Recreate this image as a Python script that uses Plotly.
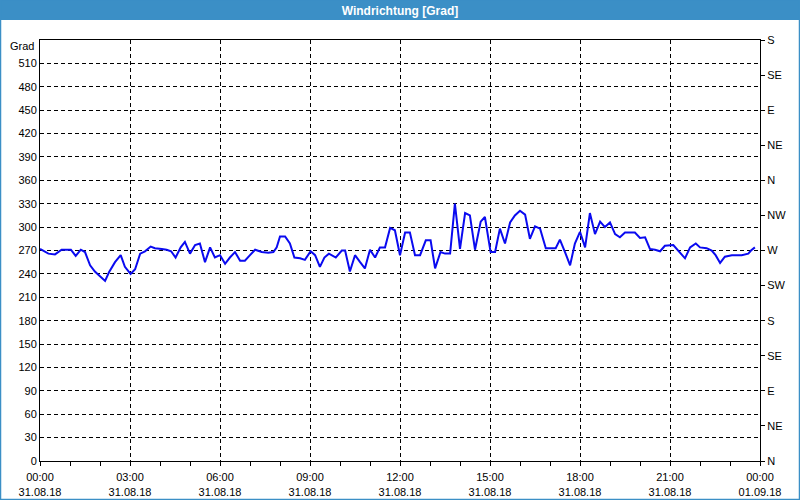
import plotly.graph_objects as go
import pandas as pd

# ---- data ----
hours = [0.0, 0.28, 0.5, 0.72, 1.03, 1.19, 1.36, 1.5, 1.67, 1.83, 2.0, 2.17, 2.3, 2.5, 2.69, 2.83,
         3.02, 3.17, 3.34, 3.5, 3.69, 3.83, 4.06, 4.22, 4.37, 4.52, 4.69, 4.83, 5.0, 5.17, 5.33, 5.5,
         5.67, 5.83, 6.0, 6.17, 6.33, 6.5, 6.67, 6.83, 7.0, 7.17, 7.39, 7.61, 7.78, 7.89, 8.0, 8.17,
         8.33, 8.48, 8.67, 8.83, 9.02, 9.17, 9.33, 9.48, 9.63, 9.86, 10.06, 10.17, 10.33, 10.5, 10.67,
         10.83, 11.0, 11.17, 11.33, 11.5, 11.67, 11.83, 12.0, 12.17, 12.33, 12.5, 12.67, 12.86, 13.02,
         13.17, 13.35, 13.5, 13.67, 13.83, 14.0, 14.17, 14.33, 14.5, 14.69, 14.83, 15.02, 15.17, 15.33,
         15.5, 15.67, 15.83, 16.0, 16.17, 16.33, 16.5, 16.67, 16.86, 17.19, 17.33, 17.5, 17.67, 17.83,
         18.0, 18.17, 18.33, 18.5, 18.67, 18.83, 19.0, 19.17, 19.33, 19.5, 19.83, 20.0, 20.17, 20.33,
         20.5, 20.67, 20.83, 21.11, 21.28, 21.5, 21.67, 21.86, 22.0, 22.22, 22.39, 22.52, 22.67, 22.83,
         23.06, 23.39, 23.61, 23.7, 23.83]
grad = [272, 266, 265, 271, 271, 263, 271, 268, 251, 243, 237, 231, 242, 255, 264, 249,
        240, 246, 266, 269, 275, 273, 272, 271, 269, 261, 274, 281, 266, 277, 279, 255,
        274, 261, 264, 253, 261, 268, 257, 257, 264, 271, 268, 267, 268, 274, 288, 288,
        279, 261, 260, 258, 269, 264, 249, 261, 266, 261, 270, 270, 243, 264, 255,
        247, 271, 261, 274, 274, 299, 296, 264, 293, 293, 264, 264, 283, 283,
        247, 268, 266, 266, 330, 272, 318, 315, 271, 307, 313, 268, 268, 298,
        279, 306, 315, 321, 316, 285, 301, 298, 273, 273, 284, 268, 251, 279,
        294, 274, 318, 291, 307, 300, 306, 291, 287, 293, 293, 286, 287, 272,
        271, 269, 276, 277, 270, 260, 274, 279, 274, 273, 270, 264, 254, 262,
        264, 264, 266, 270, 274]

left_ticks = list(range(0, 540, 30))
right_ticks = list(range(0, 541, 45))
right_labels = ["N", "NE", "E", "SE", "S", "SW", "W", "NW", "N", "NE", "E", "SE", "S"]
title_text = "Windrichtung [Grad]"
unit_label = "Grad"

base = pd.Timestamp("2018-08-31")
times = [base + pd.Timedelta(hours=h) for h in hours]

FONT = "Liberation Sans, Arial, sans-serif"
BLUE = "#3b8fc6"

fig = go.Figure()
fig.add_trace(go.Scatter(x=times, y=grad, mode="lines",
                         line=dict(color="#0a0af0", width=2), hoverinfo="skip",
                         showlegend=False))
fig.add_trace(go.Scatter(x=times, y=grad, mode="lines", yaxis="y2",
                         line=dict(color="rgba(0,0,0,0)", width=0), hoverinfo="skip",
                         showlegend=False))

fig.update_layout(
    width=800, height=500,
    margin=dict(l=40, r=40, t=40, b=39),
    paper_bgcolor="white", plot_bgcolor="white",
    font=dict(family=FONT, size=11, color="black"),
    title=dict(text="<b>" + title_text + "</b>", x=0.5, xanchor="center",
               y=1 - 10.5 / 500, yanchor="middle", yref="container",
               font=dict(family="Liberation Sans Narrow, Liberation Sans, Arial", size=12, color="white")),
    xaxis=dict(
        type="date", automargin=False,
        range=[base, base + pd.Timedelta(hours=24)],
        tickformat="%H:%M<br>%d.%m.%y",
        dtick=3 * 3600000, tick0=base,
        showgrid=True, gridcolor="black", gridwidth=1, griddash="4px,3px",
        showline=True, linecolor="black", linewidth=1, mirror=True,
        ticks="outside", ticklen=4, tickcolor="black", ticklabelstandoff=2,
        minor=dict(dtick=3600000, tick0=base, ticks="outside", ticklen=4, tickcolor="black", showgrid=False),
        zeroline=False, tickfont=dict(size=11, color="black"),
    ),
    yaxis=dict(
        range=[0, 540], tickvals=left_ticks, ticktext=[str(v) for v in left_ticks],
        automargin=False,
        showgrid=True, gridcolor="black", gridwidth=1, griddash="4px,3px",
        showline=True, linecolor="black", linewidth=1, mirror=True,
        ticks="", zeroline=False, tickfont=dict(size=11, color="black"),
    ),
    yaxis2=dict(
        range=[0, 540], overlaying="y", side="right", automargin=False,
        tickvals=right_ticks, ticktext=right_labels,
        showgrid=False, ticks="outside", ticklen=4, tickcolor="black",
        showline=False, zeroline=False, tickfont=dict(size=11, color="black"),
    ),
)

# title bar and window border
H = 421.0
W = 720.0
fig.add_shape(type="rect", xref="paper", yref="paper",
              x0=-40 / W, x1=1 + 40 / W, y0=1 + 20 / H, y1=1 + 41 / H,
              fillcolor=BLUE, line=dict(width=0), layer="below")
fig.add_shape(type="rect", xref="paper", yref="paper",
              x0=-39.5 / W, x1=1 + 39.5 / W, y0=-38.5 / H, y1=1 + 40 / H,
              fillcolor="rgba(0,0,0,0)", line=dict(color=BLUE, width=1.5), layer="below")

fig.add_annotation(text=unit_label, xref="paper", yref="y", x=0, y=540,
                   xanchor="right", yanchor="middle", xshift=-4, yshift=-6,
                   showarrow=False, font=dict(size=11, color="black"))

fig.write_html("out.html")
